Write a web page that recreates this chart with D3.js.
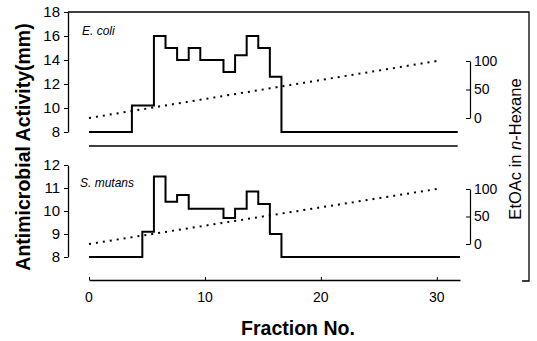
<!DOCTYPE html>
<html>
<head>
<meta charset="utf-8">
<script src="https://cdn.jsdelivr.net/npm/d3@7"></script>
<style>
  body { margin: 0; background: #fff; }
  svg { display: block; font-family: "Liberation Sans", Arial, sans-serif; }
</style>
</head>
<body>
<svg id="chart" width="537" height="341"></svg>
<script>
// fraction number axis
const fractionTicks = [0, 10, 20, 30];

// E. coli inhibition zone (mm), step edges by fraction
const ecoliEdges = [0, 3.7, 5.6, 6.6, 7.6, 8.6, 9.6, 11.6, 12.6, 13.6, 14.6, 15.6, 16.6, 31.8];
const ecoliZone  = [8, 10.2, 16, 15, 14, 15, 14, 13, 14.4, 16, 15, 12.6, 8, 8];
const ecoliTicks = [8, 10, 12, 14, 16, 18];

// S. mutans inhibition zone (mm)
const mutansEdges = [0, 4.6, 5.6, 6.6, 7.6, 8.6, 11.6, 12.6, 13.6, 14.6, 15.6, 16.6, 32];
const mutansZone  = [8, 9.1, 11.5, 10.4, 10.7, 10.1, 9.7, 10.1, 10.85, 10.3, 9.0, 8, 8];
const mutansTicks = [8, 9, 10, 11, 12];

// gradient EtOAc in n-Hexane (%)
const gradFraction = [0, 30];
const gradEtOAc = [0, 100];
const gradTicks = [0, 50, 100];

const svg = d3.select("#chart");

const x = d3.scaleLinear().domain([0, 32]).range([89, 460]);

const yTop = d3.scaleLinear().domain([8, 18]).range([132, 12]);
const yBot = d3.scaleLinear().domain([8, 12]).range([257, 165]);
const gTop = d3.scaleLinear().domain([0, 100]).range([118, 61]);
const gBot = d3.scaleLinear().domain([0, 100]).range([244, 189]);

// frame: top and right border
svg.append("path")
  .attr("d", "M68,12 H529 V281 H522")
  .attr("fill", "none").attr("stroke", "#000").attr("stroke-width", 1.3);

function leftAxis(scale, ticks) {
  const g = svg.append("g")
    .attr("transform", "translate(68,0)")
    .call(d3.axisLeft(scale).tickValues(ticks).tickFormat(d3.format("d"))
      .tickSize(4).tickPadding(4).tickSizeOuter(0));
  g.select(".domain").attr("stroke-width", 1.3);
  g.selectAll("text").attr("font-size", 15).attr("fill", "#000");
}
leftAxis(yTop, ecoliTicks);
leftAxis(yBot, mutansTicks);

function rightAxis(scale) {
  const g = svg.append("g")
    .attr("transform", "translate(470,0)")
    .call(d3.axisLeft(scale).tickValues(gradTicks).tickSize(4).tickSizeOuter(0).tickPadding(0));
  g.select(".domain").attr("stroke-width", 1.2);
  g.selectAll("text").attr("font-size", 14).attr("fill", "#000")
    .attr("text-anchor", "start").attr("x", 4);
}
rightAxis(gTop);
rightAxis(gBot);

// top panel baseline
svg.append("line")
  .attr("x1", x(0)).attr("x2", x(31.8))
  .attr("y1", 146).attr("y2", 146)
  .attr("stroke", "#000").attr("stroke-width", 1.5);

// bottom x axis
const xa = svg.append("g")
  .attr("transform", "translate(0,280)")
  .call(d3.axisTop(x).tickValues(fractionTicks).tickSize(3).tickSizeOuter(0));
xa.select(".domain").attr("stroke-width", 1.3);
xa.selectAll("text").remove();
svg.append("g").selectAll("text")
  .data(fractionTicks)
  .join("text")
  .attr("x", d => x(d))
  .attr("y", 302)
  .attr("text-anchor", "middle")
  .attr("font-size", 14)
  .text(d => d);

function stepLine(edges, vals, y) {
  const pts = edges.map((e, i) => [x(e), y(vals[i])]);
  svg.append("path")
    .attr("d", d3.line().curve(d3.curveStepAfter)(pts))
    .attr("fill", "none").attr("stroke", "#000").attr("stroke-width", 2);
}
stepLine(ecoliEdges, ecoliZone, yTop);
stepLine(mutansEdges, mutansZone, yBot);

function gradLine(g) {
  const pts = gradFraction.map((f, i) => [x(f), g(gradEtOAc[i])]);
  svg.append("path")
    .attr("d", d3.line()(pts))
    .attr("fill", "none").attr("stroke", "#000")
    .attr("stroke-width", 2).attr("stroke-dasharray", "2,5");
}
gradLine(gTop);
gradLine(gBot);

// panel labels
svg.append("text").attr("x", 82).attr("y", 35)
  .attr("font-size", 12).attr("font-style", "italic").text("E. coli");
svg.append("text").attr("x", 80).attr("y", 187)
  .attr("font-size", 12).attr("font-style", "italic").text("S. mutans");

// axis titles
svg.append("text")
  .attr("transform", "translate(30,147) rotate(-90)")
  .attr("text-anchor", "middle").attr("font-size", 19.5).attr("font-weight", "bold")
  .text("Antimicrobial Activity(mm)");

svg.append("text")
  .attr("transform", "translate(521,149) rotate(-90)")
  .attr("text-anchor", "middle").attr("font-size", 16.5)
  .html('EtOAc in <tspan font-style="italic">n</tspan>-Hexane');

svg.append("text")
  .attr("x", 298).attr("y", 335)
  .attr("text-anchor", "middle").attr("font-size", 19.5).attr("font-weight", "bold")
  .text("Fraction No.");
</script>
</body>
</html>
